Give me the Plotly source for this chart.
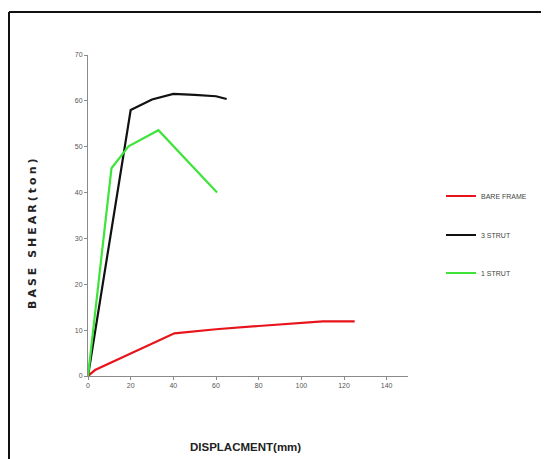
import plotly.graph_objects as go

# Data
bare_x = [0, 3.3, 40.5, 60, 80, 100, 110, 125]
bare_y = [0, 1.3, 9.3, 10.2, 10.9, 11.5, 11.9, 11.9]

strut3_x = [0, 20, 30, 40, 50, 60, 65]
strut3_y = [0, 58, 60.3, 61.5, 61.3, 61, 60.4]

strut1_x = [0, 11, 19, 33, 60.5]
strut1_y = [0, 45.3, 50.1, 53.6, 40]

x_ticks = [0, 20, 40, 60, 80, 100, 120, 140]
y_ticks = [0, 10, 20, 30, 40, 50, 60, 70]

# page has an 8px body margin, so the figure is offset by (8, 8)
OFF = 8
W, H = 541, 451
L, T = 88 - OFF, 55 - OFF
R = W - (408 - OFF)
B = H - (376 - OFF)
pw, ph = W - L - R, H - T - B

def px(x):
    return (x - OFF - L) / pw

def py(y):
    return (H - B - (y - OFF)) / ph

fig = go.Figure()
fig.add_trace(go.Scatter(x=bare_x, y=bare_y, mode="lines", name="BARE FRAME",
                         line=dict(color="#e8141c", width=2.2), legend="legend"))
fig.add_trace(go.Scatter(x=strut3_x, y=strut3_y, mode="lines", name="3 STRUT",
                         line=dict(color="#111111", width=2.2), legend="legend2"))
fig.add_trace(go.Scatter(x=strut1_x, y=strut1_y, mode="lines", name="1 STRUT",
                         line=dict(color="#3ee43a", width=2.2), legend="legend3"))

tickfont = dict(family="Liberation Sans Narrow, Liberation Sans, Arial", size=7, color="#555555")
legfont = dict(family="Liberation Sans Narrow, Liberation Sans, Arial", size=7, color="#444444")

def leg(ypx):
    return dict(x=px(441), y=py(ypx), xanchor="left", yanchor="middle",
                font=legfont, bgcolor="rgba(0,0,0,0)", itemwidth=30)

fig.update_layout(
    width=W, height=H,
    margin=dict(l=L, r=R, t=T, b=B),
    paper_bgcolor="white", plot_bgcolor="white",
    showlegend=True,
    legend=leg(196), legend2=leg(235), legend3=leg(273),
    xaxis=dict(range=[0, 150], tickvals=x_ticks, showgrid=False, zeroline=False,
               showline=True, linecolor="#8a8a8a", linewidth=1,
               ticks="outside", ticklen=3, tickcolor="#8a8a8a", tickfont=tickfont),
    yaxis=dict(range=[0, 70], tickvals=y_ticks, showgrid=False, zeroline=False,
               showline=True, linecolor="#8a8a8a", linewidth=1,
               ticks="outside", ticklen=3, tickcolor="#8a8a8a", tickfont=tickfont),
    annotations=[
        dict(text="<b>DISPLACMENT(mm)</b>", xref="paper", yref="paper",
             x=px(245), y=py(447), xanchor="center", yanchor="middle", showarrow=False,
             font=dict(family="Liberation Sans Narrow, Liberation Sans, Arial", size=11.5, color="#222222")),
        dict(text="<b><span style=\"letter-spacing:3px\">BASE SHEAR(ton)</span></b>", xref="paper", yref="paper",
             x=px(33), y=py(232), xanchor="center", yanchor="middle", showarrow=False, textangle=-90,
             font=dict(family="DejaVu Sans, Arial", size=11, color="#222222")),
    ],
    shapes=[
        dict(type="line", xref="paper", yref="paper", x0=px(9), x1=px(9), y0=py(12), y1=py(470),
             line=dict(color="#111111", width=2)),
        dict(type="line", xref="paper", yref="paper", x0=px(9), x1=px(560), y0=py(12), y1=py(12),
             line=dict(color="#111111", width=2)),
    ],
)

fig.write_html("out.html")
